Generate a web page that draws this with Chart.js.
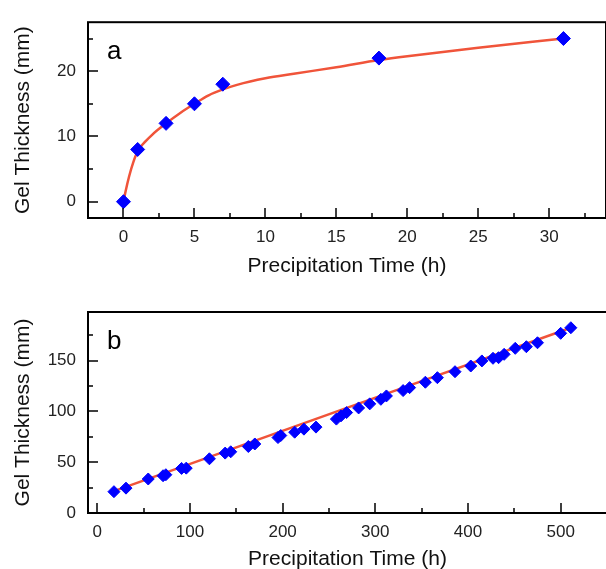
<!DOCTYPE html>
<html>
<head>
<meta charset="utf-8">
<script src="https://cdn.jsdelivr.net/npm/chart.js@4.4.1/dist/chart.umd.min.js"></script>
<style>
  body { margin: 0; width: 606px; height: 569px; overflow: hidden; background: #fff; }
  canvas { position: absolute; left: 0; }
  #chartA { top: 0; }
  #chartB { top: 284px; }
</style>
</head>
<body>
<canvas id="chartA" width="614" height="284"></canvas>
<canvas id="chartB" width="614" height="290"></canvas>
<script>
// panel a - measured points
let aTime = [0, 1, 3, 5, 7, 18, 31];
let aThick = [0, 8, 12, 15, 18, 22, 25];
// panel a - fitted curve
let aFitTime = [0, 0.15, 0.4, 0.7, 1, 2, 3, 4, 5, 6, 7, 8, 10, 12, 15, 18, 20, 25, 31];
let aFitThick = [0, 1.6, 3.9, 6.1, 7.7, 10.2, 12.0, 13.6, 15.0, 16.3, 17.2, 17.9, 18.9, 19.6, 20.6, 21.7, 22.3, 23.6, 25.0];

// panel b - measured points
let bTime = [18, 31, 55, 71, 74, 91, 96, 121, 138, 144, 163, 170, 195, 198, 213, 223, 236, 258, 263, 269,
             282, 294, 306, 312, 330, 337, 354, 367, 386, 403, 415, 427, 433, 439, 451, 463, 475, 500, 511];
let bThick = [21, 24.5, 33.5, 36.7, 37.7, 43.9, 44.2, 53.4, 59, 60.3, 65.5, 68, 74.3, 76.3, 79.6, 82.6, 84.6, 92.5, 95.7, 98.9,
              103.5, 107.5, 112, 115.3, 120.6, 123.5, 128.8, 133.3, 139.2, 144.8, 149.8, 152.4, 153, 156.3, 162.2, 163.8, 167.7, 177, 182.5];
// panel b - linear fit ends
let bFitTime = [18, 511];
let bFitThick = [21.5, 182.5];

// tick values
let aXTicks = [0, 5, 10, 15, 20, 25, 30];
let aXMinor = [2.5, 7.5, 12.5, 17.5, 22.5, 27.5, 32.5];
let aYTicks = [0, 10, 20];
let aYMinor = [5, 15, 25];
let bXTicks = [0, 100, 200, 300, 400, 500];
let bXMinor = [50, 150, 250, 350, 450];
let bYTicks = [0, 50, 100, 150];
let bYMinor = [25, 75, 125, 175];

const font = '"Liberation Sans", Arial, sans-serif';
const lineColor = '#F0543A';
const markColor = '#0000FF';

// box, inward ticks and panel letter
const frame = {
    id: 'frame',
    afterDraw(chart, args, opts) {
        const {ctx, chartArea: a} = chart;
        const x = chart.scales.x, y = chart.scales.y;
        ctx.save();
        ctx.strokeStyle = '#000';
        ctx.lineWidth = 2;
        ctx.strokeRect(a.left, a.top, a.right - a.left, a.bottom - a.top);

        ctx.lineWidth = 1.5;
        ctx.beginPath();
        opts.xMajor.forEach(v => {
            const p = Math.round(x.getPixelForValue(v));
            ctx.moveTo(p, a.bottom); ctx.lineTo(p, a.bottom - 10);
        });
        opts.xMinor.forEach(v => {
            const p = Math.round(x.getPixelForValue(v));
            ctx.moveTo(p, a.bottom); ctx.lineTo(p, a.bottom - 5);
        });
        opts.yMajor.forEach(v => {
            const p = Math.round(y.getPixelForValue(v));
            ctx.moveTo(a.left, p); ctx.lineTo(a.left + 10, p);
        });
        opts.yMinor.forEach(v => {
            const p = Math.round(y.getPixelForValue(v));
            ctx.moveTo(a.left, p); ctx.lineTo(a.left + 5, p);
        });
        ctx.stroke();

        ctx.fillStyle = '#000';
        ctx.font = '26px ' + font;
        ctx.textBaseline = 'alphabetic';
        ctx.fillText(opts.label, a.left + 19, a.top + 37);
        ctx.restore();
    }
};

function makeChart(id, p) {
    const ctx = document.getElementById(id).getContext('2d');
    return new Chart(ctx, {
        type: 'scatter',
        data: {
            datasets: [
                {
                    data: p.time.map((t, i) => ({x: t, y: p.thick[i]})),
                    pointStyle: 'rectRot',
                    pointRadius: p.radius,
                    backgroundColor: markColor,
                    borderColor: markColor,
                    borderWidth: 1,
                    order: 0
                },
                {
                    data: p.fitTime.map((t, i) => ({x: t, y: p.fitThick[i]})),
                    showLine: true,
                    pointRadius: 0,
                    borderColor: lineColor,
                    borderWidth: 2.5,
                    cubicInterpolationMode: 'monotone',
                    order: 1
                }
            ]
        },
        options: {
            responsive: false,
            animation: false,
            layout: { padding: { top: p.padTop, right: 2, left: 0, bottom: 0 } },
            scales: {
                x: {
                    type: 'linear',
                    min: p.xMin,
                    max: p.xMax,
                    afterBuildTicks: s => { s.ticks = p.xTicks.map(v => ({value: v})); },
                    afterFit: s => { s.height = p.xHeight; },
                    grid: { display: false, drawTicks: false },
                    border: { display: false },
                    ticks: { padding: 9, color: '#222', font: { family: font, size: 17 } },
                    title: {
                        display: true,
                        text: 'Precipitation Time (h)',
                        color: '#111',
                        font: { family: font, size: 21 },
                        padding: { top: 0, bottom: p.titlePad }
                    }
                },
                y: {
                    type: 'linear',
                    min: p.yMin,
                    max: p.yMax,
                    afterBuildTicks: s => { s.ticks = p.yTicks.map(v => ({value: v})); },
                    afterFit: s => { s.width = 88; },
                    grid: { display: false, drawTicks: false },
                    border: { display: false },
                    ticks: { padding: 12, color: '#222', font: { family: font, size: 17 } },
                    title: {
                        display: true,
                        text: 'Gel Thickness (mm)',
                        color: '#111',
                        font: { family: font, size: 21 },
                        padding: { top: 11, bottom: 0 }
                    }
                }
            },
            plugins: {
                legend: { display: false },
                tooltip: { enabled: false },
                frame: { label: p.label, xMajor: p.xTicks, xMinor: p.xMinor, yMajor: p.yTicks, yMinor: p.yMinor }
            }
        },
        plugins: [frame]
    });
}

//chart a
makeChart('chartA', {
    time: aTime, thick: aThick, fitTime: aFitTime, fitThick: aFitThick,
    radius: 7, label: 'a',
    xMin: -2.5, xMax: 34, yMin: -2.5, yMax: 27.5,
    xTicks: aXTicks, xMinor: aXMinor, yTicks: aYTicks, yMinor: aYMinor,
    padTop: 15, xHeight: 66, titlePad: 5
});

//chart b
makeChart('chartB', {
    time: bTime, thick: bThick, fitTime: bFitTime, fitThick: bFitThick,
    radius: 6, label: 'b',
    xMin: -10, xMax: 550, yMin: 0, yMax: 198,
    xTicks: bXTicks, xMinor: bXMinor, yTicks: bYTicks, yMinor: bYMinor,
    padTop: 28, xHeight: 61, titlePad: 2
});
</script>
</body>
</html>
